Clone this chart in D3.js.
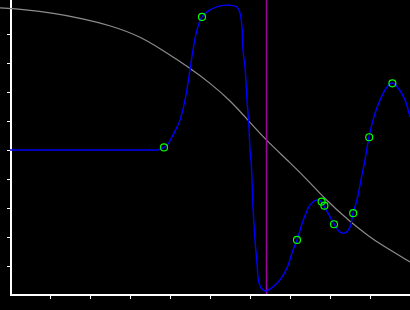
<!DOCTYPE html>
<html lang="en">
	<head>
		<meta charset="utf-8">
		<title>D3: spline fit with marker</title>
		<script type="text/javascript" src="https://d3js.org/d3.v7.min.js"></script>
		<style type="text/css">
		body {
			margin: 0;
			background: #000;
		}
		.grayLine {
			fill: none;
			stroke: #8c8c8c;
			stroke-width: 1.2;
		}
		.blueLine {
			fill: none;
			stroke: #0000ff;
			stroke-width: 1.4;
		}
		.greenDot {
			fill: none;
			stroke: #00ff00;
			stroke-width: 1.2;
		}
		.marker {
			stroke: #a000a0;
			stroke-width: 1.5;
		}
		.axisLine {
			stroke: #fff;
			stroke-width: 2;
		}
		</style>
	</head>
	<body>
		<script type="text/javascript">

		// tick positions (no labels in the picture)
		var xTicks = [1, 2, 3, 4, 5, 6, 7, 8, 9];
		var yTicks = [1, 2, 3, 4, 5, 6, 7, 8, 9];

		// gray descending curve
		var grayX = [-0.25, 0.375, 1.075, 1.825, 2.5, 3.25, 3.75, 4.5, 5.0, 5.5, 6.0, 6.4, 7.0, 7.5, 7.825, 8.5, 9.0, 9.25, 10.0];
		var grayY = [9.90, 9.84, 9.72, 9.53, 9.30, 8.92, 8.50, 7.83, 7.31, 6.72, 5.95, 5.34, 4.57, 3.88, 3.38, 2.52, 2.00, 1.76, 1.14];

		// blue fitted curve
		var blueX = [0, 3.55, 3.675, 3.85, 3.95, 4.075, 4.25, 4.375, 4.5, 4.575, 4.675, 4.8, 5.0, 5.25, 5.5, 5.675, 5.75, 5.8, 5.825, 5.875, 5.925, 5.975, 6.0, 6.025, 6.05, 6.075, 6.125, 6.175, 6.225, 6.325, 6.4, 6.575, 6.75, 6.925, 7.05, 7.175, 7.325, 7.5, 7.675, 7.8, 7.85, 7.95, 8.1, 8.25, 8.375, 8.5, 8.575, 8.675, 8.775, 8.875, 8.975, 9.075, 9.25, 9.425, 9.55, 9.7, 9.875, 10.0];
		var blueY = [5.0, 5.0, 5.0, 5.09, 5.21, 5.52, 6.03, 6.72, 7.76, 8.45, 9.14, 9.59, 9.83, 9.97, 9.99, 9.93, 9.72, 9.24, 8.45, 7.86, 6.72, 5.79, 5.0, 4.66, 3.97, 3.03, 1.90, 1.10, 0.41, 0.17, 0.14, 0.28, 0.52, 0.93, 1.45, 1.90, 2.55, 3.10, 3.28, 3.21, 3.07, 2.83, 2.45, 2.17, 2.14, 2.34, 2.83, 3.28, 3.97, 4.66, 5.45, 6.03, 6.72, 7.17, 7.31, 7.14, 6.72, 6.14];

		// green sample points
		var dotX = [3.85, 4.8, 7.175, 7.79, 7.86, 8.1, 8.58, 8.98, 9.56];
		var dotY = [5.09, 9.59, 1.90, 3.22, 3.08, 2.44, 2.82, 5.44, 7.30];

		// vertical marker
		var markerX = 6.4;

		var width = 410, height = 310;

		var xScale = d3.scaleLinear()
			.domain([0, 10])
			.range([10, 410]);

		var yScale = d3.scaleLinear()
			.domain([0, 10])
			.range([295, 5]);

		var svg = d3.select("body")
			.append("svg")
			.attr("width", width)
			.attr("height", height)
			.style("display", "block")
			.style("background", "#000");

		var line = d3.line()
			.x(function(d) { return xScale(d[0]); })
			.y(function(d) { return yScale(d[1]); })
			.curve(d3.curveCatmullRom.alpha(0.5));

		var smoothLine = d3.line()
			.x(function(d) { return xScale(d[0]); })
			.y(function(d) { return yScale(d[1]); })
			.curve(d3.curveBasis);

		var grayData = grayX.map(function(x, i) { return [x, grayY[i]]; });
		var blueData = blueX.map(function(x, i) { return [x, blueY[i]]; });
		var dotData = dotX.map(function(x, i) { return [x, dotY[i]]; });

		// axes
		svg.append("g")
			.attr("transform", "translate(10,0)")
			.call(d3.axisLeft(yScale).tickValues(yTicks).tickSize(3).tickSizeOuter(0).tickFormat(""))
			.call(function(g) { g.select(".domain").remove(); })
			.selectAll("line").attr("stroke", "#fff");

		svg.append("g")
			.attr("transform", "translate(0,296)")
			.call(d3.axisBottom(xScale).tickValues(xTicks).tickSize(3).tickSizeOuter(0).tickFormat(""))
			.call(function(g) { g.select(".domain").remove(); })
			.selectAll("line").attr("stroke", "#fff");

		svg.append("line")
			.attr("class", "axisLine")
			.attr("x1", xScale(0) + 1).attr("x2", xScale(0) + 1)
			.attr("y1", 0).attr("y2", yScale(0) + 1);

		svg.append("line")
			.attr("class", "axisLine")
			.attr("x1", xScale(0)).attr("x2", width)
			.attr("y1", yScale(0)).attr("y2", yScale(0));

		// gray curve
		svg.append("path")
			.datum(grayData)
			.attr("class", "grayLine")
			.attr("d", smoothLine);

		// marker
		svg.append("line")
			.attr("class", "marker")
			.attr("x1", xScale(markerX) + 0.5).attr("x2", xScale(markerX) + 0.5)
			.attr("y1", 0).attr("y2", yScale(0) - 1);

		// blue curve
		svg.append("path")
			.datum(blueData)
			.attr("class", "blueLine")
			.attr("d", line);

		svg.selectAll(".greenDot")
			.data(dotData)
			.enter()
			.append("circle")
			.attr("class", "greenDot")
			.attr("cx", function(d) { return xScale(d[0]); })
			.attr("cy", function(d) { return yScale(d[1]); })
			.attr("r", 3.5);

		</script>
	</body>
</html>
